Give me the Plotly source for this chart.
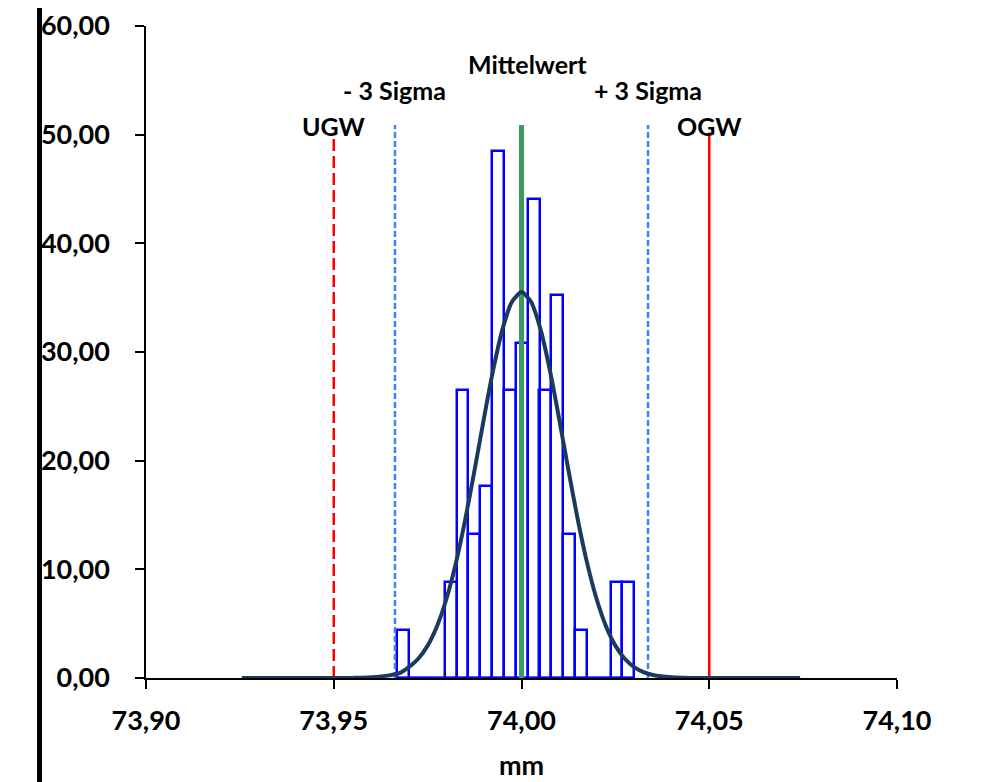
import plotly.graph_objects as go

# Histogram (density)
bin_centers = [73.96850, 73.97166, 73.97481, 73.97797, 73.98112, 73.98428, 73.98744,
               73.99059, 73.99375, 73.99691, 74.00006, 74.00322, 74.00637, 74.00953,
               74.01268, 74.01584, 74.01900, 74.02215, 74.02531, 74.02846]
bin_width = 0.003156
bin_heights = [4.41, 0, 0, 0, 8.82, 26.46, 13.23, 17.64, 48.51, 26.46,
               30.87, 44.10, 26.46, 35.28, 13.23, 4.41, 0, 0, 8.82, 8.82]

# Normal curve points
curve_x = [73.9255, 73.950, 73.955, 73.960, 73.9675, 73.970, 73.9725, 73.975, 73.9775,
           73.980, 73.9825, 73.985, 73.9875, 73.990, 73.9925, 73.995, 73.9975,
           74.000, 74.0025, 74.005, 74.0075, 74.010, 74.0125, 74.015, 74.0175,
           74.020, 74.0225, 74.025, 74.0275, 74.030, 74.0325, 74.035, 74.040,
           74.045, 74.050, 74.0742]
curve_y = [0.0, 0.0, 0.01, 0.06, 0.45, 1.00, 1.77, 2.98, 4.77,
           7.27, 10.55, 14.56, 19.12, 23.90, 28.42, 32.17, 34.65,
           35.52, 34.65, 32.17, 28.42, 23.90, 19.12, 14.56, 10.55,
           7.27, 4.77, 2.98, 1.77, 1.00, 0.54, 0.28, 0.06,
           0.01, 0.0, 0.0]

# Reference lines
ugw, ogw = 73.95, 74.05
mean_val = 74.000
minus3s, plus3s = 73.9663, 74.0337
limit_top = 50.2
line_top = 50.9

labels = ["UGW", "OGW", "- 3 Sigma", "+ 3 Sigma", "Mittelwert"]
label_x = [ugw, ogw, minus3s, plus3s, mean_val]
label_y = [50.8, 50.8, 54.1, 54.1, 56.5]

x_ticks = [73.90, 73.95, 74.00, 74.05, 74.10]
y_ticks = [0, 10, 20, 30, 40, 50, 60]

fig = go.Figure()

fig.add_trace(go.Bar(
    x=bin_centers, y=bin_heights, width=bin_width,
    marker=dict(color="rgba(0,0,0,0)", line=dict(color="#0000ff", width=2.5)),
    cliponaxis=False, hoverinfo="skip"))

# baseline of the bars
fig.add_trace(go.Scatter(
    x=[bin_centers[0] - bin_width / 2, bin_centers[-1] + bin_width / 2], y=[0, 0],
    mode="lines", line=dict(color="#0000ff", width=2.5), cliponaxis=False))

fig.add_trace(go.Scatter(x=[ugw, ugw], y=[0, limit_top], mode="lines",
                         line=dict(color="#ff0000", width=2.5, dash="12px,5px"), cliponaxis=False))
fig.add_trace(go.Scatter(x=[ogw, ogw], y=[0, limit_top], mode="lines",
                         line=dict(color="#ff0000", width=2.5), cliponaxis=False))
fig.add_trace(go.Scatter(x=[minus3s, minus3s], y=[0, line_top], mode="lines",
                         line=dict(color="#3f7fff", width=2.5, dash="6px,3px"), cliponaxis=False))
fig.add_trace(go.Scatter(x=[plus3s, plus3s], y=[0, line_top], mode="lines",
                         line=dict(color="#3f7fff", width=2.5, dash="6px,3px"), cliponaxis=False))
fig.add_trace(go.Scatter(x=[mean_val, mean_val], y=[0, line_top], mode="lines",
                         line=dict(color="#3a9a60", width=5), cliponaxis=False))

fig.add_trace(go.Scatter(x=curve_x, y=curve_y, mode="lines",
                         line=dict(color="#1c3a5e", width=4, shape="spline", smoothing=0.6),
                         cliponaxis=False))

shifts = [0, 0, 0, 0, 6]
for t, lx, ly, sh in zip(labels, label_x, label_y, shifts):
    fig.add_annotation(x=lx, y=ly, text=t, showarrow=False, xshift=sh,
                       font=dict(family="Lato", size=25, color="black", weight="bold"),
                       xanchor="center", yanchor="middle")

fig.add_annotation(x=74.00, y=0, text="mm", showarrow=False, yshift=-86,
                   font=dict(family="Lato", size=27, color="black", weight="bold"),
                   xanchor="center", yanchor="middle")

# thick black border at the left
fig.add_shape(type="line", xref="paper", yref="paper", x0=-0.1418, x1=-0.1418,
              y0=-0.3, y1=1.1, line=dict(color="black", width=5))

# page body has an 8px margin: shift the figure origin accordingly
fig.update_layout(
    width=983, height=774,
    margin=dict(l=138, r=94, t=18, b=104, autoexpand=False),
    plot_bgcolor="white", paper_bgcolor="white",
    showlegend=False, separators=",.",
    bargap=0,
    xaxis=dict(range=[73.90, 74.10], tickvals=x_ticks, tickformat=".2f", automargin=False,
               showgrid=False, zeroline=False, showline=True, linecolor="black", linewidth=1.5,
               ticks="outside", ticklen=9, tickwidth=1.5, tickcolor="black",
               tickfont=dict(family="Lato", size=27, color="black", weight="bold"),
               ticklabelstandoff=9, layer="below traces"),
    yaxis=dict(range=[0, 60], tickvals=y_ticks, tickformat=".2f", automargin=False,
               showgrid=False, zeroline=False, showline=True, linecolor="black", linewidth=1.5,
               ticks="outside", ticklen=9, tickwidth=1.5, tickcolor="black",
               tickfont=dict(family="Lato", size=27, color="black", weight="bold"),
               ticklabelstandoff=20, layer="below traces"),
)

fig.write_html("out.html")
